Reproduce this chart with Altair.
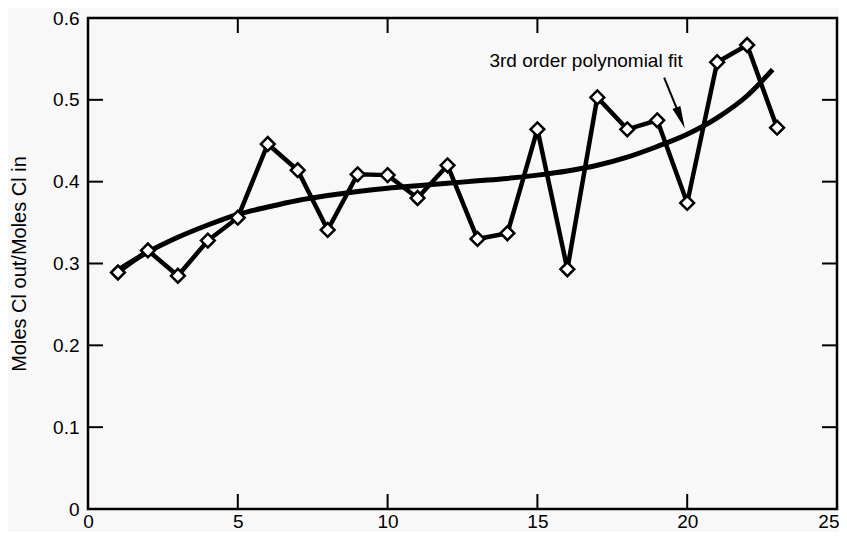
import altair as alt
import pandas as pd

# Measured data (run number vs ratio)
run = list(range(1, 24))
ratio = [0.289, 0.316, 0.285, 0.328, 0.356, 0.446, 0.414, 0.341, 0.409, 0.408,
         0.380, 0.420, 0.330, 0.337, 0.464, 0.293, 0.503, 0.464, 0.475, 0.374,
         0.546, 0.567, 0.466]

# 3rd-order polynomial fit curve
fit_x = [1, 2, 3, 4, 5, 6, 7, 8, 9, 10, 11, 12, 13, 14, 15, 16, 17, 18, 19, 20, 21, 22, 22.85]
fit_y = [0.292, 0.314, 0.332, 0.347, 0.360, 0.369, 0.377, 0.383, 0.388, 0.392, 0.395,
         0.398, 0.401, 0.404, 0.408, 0.413, 0.420, 0.430, 0.443, 0.458, 0.478, 0.505, 0.537]

x_ticks = [0, 5, 10, 15, 20, 25]
y_ticks = [0, 0.1, 0.2, 0.3, 0.4, 0.5, 0.6]
x_inner = [5, 10, 15, 20]
y_inner = [0.1, 0.2, 0.3, 0.4, 0.5]

# annotation
note_text = ["3rd order polynomial fit"]
note_x = [19.85]
note_y = [0.548]
arrow_x1, arrow_y1 = [19.23], [0.527]
arrow_x2, arrow_y2 = [19.78], [0.478]
head_x, head_y = [19.78], [0.478]

W, H = 749, 491
FONT = "Liberation Sans"

pts = pd.DataFrame({"x": run, "y": ratio})
fit = pd.DataFrame({"x": fit_x, "y": fit_y})

xs = alt.Scale(domain=[0, 25], nice=False, zero=False)
ys = alt.Scale(domain=[0, 0.6], nice=False, zero=False)

xaxis = alt.Axis(values=x_ticks, format="d", ticks=False, domain=False, grid=False,
                 labelFlush=False, labelOverlap=False, labelPadding=3,
                 labelAlign={"condition": {"test": "datum.value == 25", "value": "right"},
                             "value": "center"},
                 labelOffset={"condition": {"test": "datum.value == 25", "value": 2},
                              "value": 0},
                 labelFontSize=19, labelFont=FONT, labelColor="black", title=None)
yaxis = alt.Axis(values=y_ticks, format=".1~f", ticks=False, domain=False, grid=False,
                 labelFlush=False, labelOverlap=False, labelPadding=9,
                 labelFontSize=19, labelFont=FONT, labelColor="black",
                 title="Moles Cl out/Moles Cl in", titleFont=FONT, titleFontSize=20,
                 titleFontWeight="normal", titleColor="black", titlePadding=23)

fit_line = alt.Chart(fit).mark_line(color="black", strokeWidth=5, interpolate="monotone").encode(
    x=alt.X("x:Q", scale=xs, axis=xaxis),
    y=alt.Y("y:Q", scale=ys, axis=yaxis),
)

data_line = alt.Chart(pts).mark_line(color="black", strokeWidth=4.5).encode(
    x=alt.X("x:Q", scale=xs), y=alt.Y("y:Q", scale=ys))

markers = alt.Chart(pts).mark_point(shape="diamond", filled=True, fill="white",
                                    stroke="black", strokeWidth=2.5, size=190,
                                    opacity=1).encode(
    x=alt.X("x:Q", scale=xs), y=alt.Y("y:Q", scale=ys))

xt = pd.DataFrame({"v": x_inner})
yt = pd.DataFrame({"v": y_inner})
tick_len = 15
bottom_ticks = alt.Chart(xt).mark_rule(color="black", strokeWidth=2).encode(
    x=alt.X("v:Q", scale=xs), y=alt.value(H), y2=alt.value(H - tick_len))
top_ticks = alt.Chart(xt).mark_rule(color="black", strokeWidth=2).encode(
    x=alt.X("v:Q", scale=xs), y=alt.value(0), y2=alt.value(tick_len))
left_ticks = alt.Chart(yt).mark_rule(color="black", strokeWidth=2).encode(
    y=alt.Y("v:Q", scale=ys), x=alt.value(0), x2=alt.value(tick_len))
right_ticks = alt.Chart(yt).mark_rule(color="black", strokeWidth=2).encode(
    y=alt.Y("v:Q", scale=ys), x=alt.value(W), x2=alt.value(W - tick_len))

note = alt.Chart(pd.DataFrame({"t": note_text, "x": note_x, "y": note_y})).mark_text(
    align="right", baseline="middle", font=FONT, fontSize=19, color="black").encode(
    x=alt.X("x:Q", scale=xs), y=alt.Y("y:Q", scale=ys), text="t:N")

arrow = alt.Chart(pd.DataFrame({"x": arrow_x1, "y": arrow_y1, "x2": arrow_x2, "y2": arrow_y2})).mark_rule(
    color="black", strokeWidth=2).encode(
    x=alt.X("x:Q", scale=xs), y=alt.Y("y:Q", scale=ys), x2="x2:Q", y2="y2:Q")

head = alt.Chart(pd.DataFrame({"x": head_x, "y": head_y})).mark_point(
    shape="M0,1L-0.38,-1L0.38,-1Z", filled=True, color="black", opacity=1,
    size=500, angle=338).encode(
    x=alt.X("x:Q", scale=xs), y=alt.Y("y:Q", scale=ys))

chart = alt.layer(
    fit_line, data_line, markers, bottom_ticks, top_ticks, left_ticks, right_ticks,
    note, arrow, head
).properties(
    width=W, height=H,
    autosize=alt.AutoSizeParams(type="none"),
    padding={"left": 80, "top": 10, "right": 2, "bottom": 23},
    background="#f8f8f8",
).configure_view(stroke="black", strokeWidth=2.5)

chart.save("out.html", embed_options={"renderer": "svg", "actions": False})
